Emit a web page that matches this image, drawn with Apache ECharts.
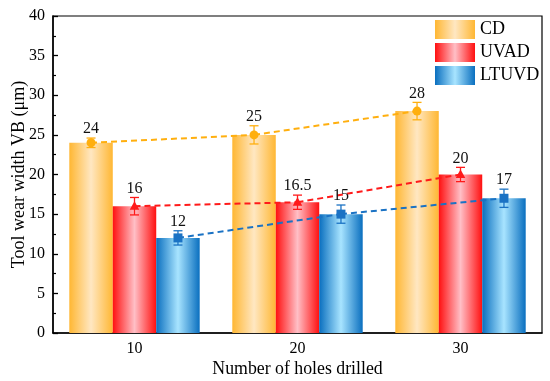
<!DOCTYPE html>
<html>
<head>
<meta charset="utf-8">
<script src="https://cdn.jsdelivr.net/npm/echarts@6/dist/echarts.min.js"></script>
<style>html,body{margin:0;padding:0;background:#fff}#c{width:550px;height:381px}</style>
</head>
<body>
<div id="c"></div>
<script>
const categories = ['10', '20', '30'];
const seriesNames = ['CD', 'UVAD', 'LTUVD'];
const cdValues = [24, 25, 28];
const uvadValues = [16, 16.5, 20];
const ltuvdValues = [12, 15, 17];
const cdErrors = [0.6, 1.15, 1.1];
const uvadErrors = [1.1, 0.9, 0.9];
const ltuvdErrors = [0.9, 1.15, 1.15];
const valueLabels = [['24', '25', '28'], ['16', '16.5', '20'], ['12', '15', '17']];
const yTicks = { min: 0, max: 40, interval: 5 };

const FONT = 'Liberation Serif';
const allValues = [cdValues, uvadValues, ltuvdValues];
const allErrors = [cdErrors, uvadErrors, ltuvdErrors];
const lineColors = ['#FFAF0F', '#FF1A1A', '#1A72C4'];
const grads = [
  ['#FFB733', '#FFE7C2', '#FFB733'],
  ['#FF1010', '#FFBFC6', '#FF1010'],
  ['#0A6FBF', '#A8E4FF', '#0A6FBF']
];
const CAT_GAP = 0.2;

function grad(c) {
  return new echarts.graphic.LinearGradient(0, 0, 1, 0, [
    { offset: 0, color: c[0] },
    { offset: 0.5, color: c[1] },
    { offset: 1, color: c[2] }
  ]);
}

const chart = echarts.init(document.getElementById('c'), null, { renderer: 'canvas' });

const series = [];
seriesNames.forEach((name, k) => {
  series.push({
    name: name,
    type: 'bar',
    xAxisIndex: 0,
    barGap: '0%',
    barCategoryGap: (CAT_GAP * 100) + '%',
    data: allValues[k],
    itemStyle: { color: grad(grads[k]) },
    emphasis: { disabled: true },
    z: 2
  });
});

seriesNames.forEach((name, k) => {
  const vals = allValues[k];
  const errs = allErrors[k];
  series.push({
    name: name + '_err',
    type: 'custom',
    xAxisIndex: 0,
    z: 5,
    data: vals.map((v, i) => [i, v, errs[i]]),
    renderItem: function (params, api) {
      const i = api.value(0);
      const v = api.value(1);
      const e = api.value(2);
      const band = api.size([1, 0])[0];
      const barW = band * (1 - CAT_GAP) / 3;
      const off = (k - 1) * barW;
      const p = api.coord([i, v]);
      const x = p[0] + off;
      const y = p[1];
      const yTop = api.coord([i, v + e])[1];
      const yBot = api.coord([i, v - e])[1];
      const col = lineColors[k];
      const children = [];
      if (i < vals.length - 1) {
        const q = api.coord([i + 1, vals[i + 1]]);
        children.push({
          type: 'line',
          shape: { x1: x, y1: y, x2: q[0] + off, y2: q[1] },
          style: { stroke: col, lineWidth: 2, lineDash: [6, 4] }
        });
      }
      const cap = 4.5;
      children.push({ type: 'line', shape: { x1: x, y1: yTop, x2: x, y2: yBot }, style: { stroke: col, lineWidth: 1.3 } });
      children.push({ type: 'line', shape: { x1: x - cap, y1: yTop, x2: x + cap, y2: yTop }, style: { stroke: col, lineWidth: 1.3 } });
      children.push({ type: 'line', shape: { x1: x - cap, y1: yBot, x2: x + cap, y2: yBot }, style: { stroke: col, lineWidth: 1.3 } });
      if (k === 0) {
        children.push({ type: 'circle', shape: { cx: x, cy: y, r: 4.5 }, style: { fill: col } });
      } else if (k === 1) {
        children.push({ type: 'polygon', shape: { points: [[x, y - 5], [x - 4.8, y + 3.5], [x + 4.8, y + 3.5]] }, style: { fill: col } });
      } else {
        children.push({ type: 'rect', shape: { x: x - 4.5, y: y - 4.5, width: 9, height: 9 }, style: { fill: col } });
      }
      children.push({
        type: 'text',
        style: {
          text: valueLabels[k][i],
          x: x, y: yTop - 1,
          textAlign: 'center', textVerticalAlign: 'bottom',
          fontFamily: FONT, fontSize: 16, fill: '#111'
        }
      });
      return { type: 'group', children: children };
    }
  });
});

chart.setOption({
  animation: false,
  backgroundColor: '#fff',
  grid: { left: 53, right: 8, top: 16, bottom: 48, containLabel: false, outerBoundsMode: 'none', show: true, borderColor: '#000', borderWidth: 1.2, backgroundColor: 'transparent' },
  legend: {
    data: seriesNames,
    orient: 'vertical',
    left: 435, top: 20,
    padding: 0,
    itemWidth: 40, itemHeight: 19, itemGap: 4,
    icon: 'rect',
    textStyle: { fontFamily: FONT, fontSize: 18, color: '#000' }
  },
  xAxis: [
    {
      type: 'category',
      data: categories,
      axisLine: { lineStyle: { color: '#000', width: 1.5 } },
      axisTick: { alignWithLabel: true, inside: true, length: 5, lineStyle: { color: '#000', width: 1.3 } },
      axisLabel: { fontFamily: FONT, fontSize: 16, color: '#000', margin: 8 },
      name: 'Number of holes drilled',
      nameLocation: 'middle',
      nameGap: 27,
      nameMoveOverlap: false,
      nameTextStyle: { fontFamily: FONT, fontSize: 17.8, color: '#000' }
    },
    {
      type: 'category',
      data: categories,
      position: 'bottom',
      axisLine: { show: false },
      axisTick: { inside: true, length: 5, lineStyle: { color: '#000', width: 1.3 } },
      axisLabel: { show: false }
    }
  ],
  yAxis: {
    type: 'value',
    min: yTicks.min, max: yTicks.max, interval: yTicks.interval,
    axisLine: { show: true, lineStyle: { color: '#000', width: 1.5 } },
    axisTick: { show: true, inside: true, length: 5, lineStyle: { color: '#000', width: 1.3 } },
    minorTick: { show: true, splitNumber: 2, length: 3, lineStyle: { color: '#000', width: 1.2 } },
    splitLine: { show: false },
    axisLabel: { fontFamily: FONT, fontSize: 16, color: '#000', margin: 8 },
    name: 'Tool wear width VB (μm)',
    nameLocation: 'middle',
    nameGap: 25,
    nameMoveOverlap: false,
    nameTextStyle: { fontFamily: FONT, fontSize: 18, color: '#000' }
  },
  series: series
});
</script>
</body>
</html>
